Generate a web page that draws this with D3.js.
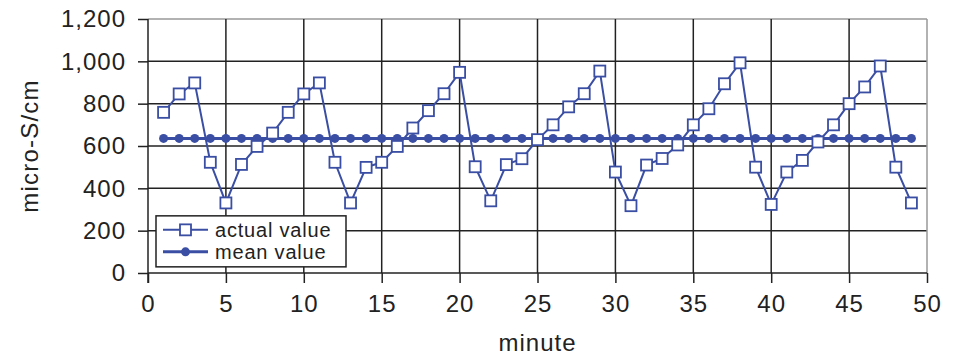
<!doctype html>
<html>
<head>
<script src="https://d3js.org/d3.v7.min.js"></script>
<style>
  body { margin: 0; background: #fff; }
  text { font-family: "Liberation Sans", Arial, sans-serif; fill: #222; }
</style>
</head>
<body>
<svg id="chart" width="963" height="359"></svg>
<script>
const minutes = d3.range(1, 50);
const actualValues = [
  759, 846, 898, 523, 331, 513, 598, 661, 759, 846,
  898, 523, 331, 499, 523, 598, 685, 767, 847, 948,
  502, 341, 512, 540, 630, 700, 785, 847, 954, 477,
  318, 510, 541, 605, 700, 776, 894, 993, 500, 324,
  477, 532, 619, 700, 800, 879, 978, 500, 331
];
const meanValue = 636;
const xTicks = [0, 5, 10, 15, 20, 25, 30, 35, 40, 45, 50];
const yTicks = [0, 200, 400, 600, 800, 1000, 1200];
const seriesNames = ["actual value", "mean value"];

const svg = d3.select('#chart');
const margin = {top: 19, right: 36, bottom: 86, left: 148};
const width = +svg.attr('width');
const height = +svg.attr('height');
const innerWidth = width - margin.left - margin.right;
const innerHeight = height - margin.top - margin.bottom;
const blue = '#3a4ea3';

const x = d3.scaleLinear().domain([0, 50]).range([0, innerWidth]);
const y = d3.scaleLinear().domain([0, 1200]).range([innerHeight, 0]);

const g = svg.append('g')
  .attr('transform', `translate(${margin.left}, ${margin.top})`);

// grid
g.append('g').selectAll('line').data(yTicks.slice(1)).join('line')
  .attr('x1', 0).attr('x2', innerWidth)
  .attr('y1', d => y(d)).attr('y2', d => y(d))
  .attr('stroke', d => d == 1200 ? '#999' : '#222').attr('stroke-width', 1.5);
g.append('g').selectAll('line').data(xTicks.slice(1)).join('line')
  .attr('y1', 0).attr('y2', innerHeight)
  .attr('x1', d => x(d)).attr('x2', d => x(d))
  .attr('stroke', d => d == 50 ? '#999' : '#222').attr('stroke-width', 1.5);

// axes
const xAxis = g.append('g')
  .attr('transform', `translate(0, ${innerHeight})`)
  .call(d3.axisBottom(x).tickValues(xTicks).tickSize(10).tickPadding(12));
const yAxis = g.append('g')
  .call(d3.axisLeft(y).tickValues(yTicks).tickSize(10).tickPadding(12)
    .tickFormat(d3.format(',')));
[xAxis, yAxis].forEach(a => {
  a.select('.domain').remove();
  a.selectAll('line').attr('stroke', '#222').attr('stroke-width', 1.5);
  a.selectAll('text').style('font-size', '24px').style('letter-spacing', '1px')
    .style('font-family', '"Liberation Sans", Arial, sans-serif').attr('fill', '#222');
});
g.append('line').attr('x1', 0).attr('x2', innerWidth)
  .attr('y1', innerHeight).attr('y2', innerHeight)
  .attr('stroke', '#222').attr('stroke-width', 1.5);
g.append('line').attr('x1', 0).attr('x2', 0)
  .attr('y1', 0).attr('y2', innerHeight + 10)
  .attr('stroke', '#222').attr('stroke-width', 1.5);

// mean series
const meanLine = d3.line().x(d => x(d)).y(() => y(meanValue));
g.append('path').attr('d', meanLine(minutes))
  .attr('fill', 'none').attr('stroke', blue).attr('stroke-width', 3);
g.append('g').selectAll('circle').data(minutes).join('circle')
  .attr('cx', d => x(d)).attr('cy', y(meanValue)).attr('r', 4.5)
  .attr('fill', blue);

// actual series
const actualLine = d3.line().x((d, i) => x(minutes[i])).y(d => y(d));
g.append('path').attr('d', actualLine(actualValues))
  .attr('fill', 'none').attr('stroke', blue).attr('stroke-width', 2);
const sq = 11;
g.append('g').selectAll('rect').data(actualValues).join('rect')
  .attr('x', (d, i) => x(minutes[i]) - sq / 2)
  .attr('y', d => y(d) - sq / 2)
  .attr('width', sq).attr('height', sq)
  .attr('fill', '#fff').attr('stroke', blue).attr('stroke-width', 1.8);

// axis titles
svg.append('text')
  .attr('x', margin.left + innerWidth / 2).attr('y', 351)
  .attr('text-anchor', 'middle').style('font-size', '24px').style('letter-spacing', '1px')
  .text('minute');
svg.append('text')
  .attr('transform', `translate(38, ${margin.top + innerHeight / 2}) rotate(-90)`)
  .attr('text-anchor', 'middle').style('font-size', '24px').style('letter-spacing', '1.2px')
  .text('micro-S/cm');

// legend
const leg = g.append('g').attr('transform', `translate(8, ${y(270)})`);
leg.append('rect').attr('width', 190).attr('height', 51)
  .attr('fill', '#fff').attr('stroke', '#222').attr('stroke-width', 1.5);
seriesNames.forEach((name, i) => {
  const ly = 14 + i * 22;
  leg.append('line').attr('x1', 7).attr('x2', 52).attr('y1', ly).attr('y2', ly)
    .attr('stroke', blue).attr('stroke-width', i == 0 ? 2 : 3);
  if (i == 0) {
    leg.append('rect').attr('x', 29.5 - sq / 2).attr('y', ly - sq / 2)
      .attr('width', sq).attr('height', sq)
      .attr('fill', '#fff').attr('stroke', blue).attr('stroke-width', 1.8);
  } else {
    leg.append('circle').attr('cx', 29.5).attr('cy', ly).attr('r', 4.5).attr('fill', blue);
  }
  leg.append('text').attr('x', 59).attr('y', ly).attr('dy', '0.35em')
    .style('font-size', '20px').style('letter-spacing', '0.8px').text(name);
});
</script>
</body>
</html>
